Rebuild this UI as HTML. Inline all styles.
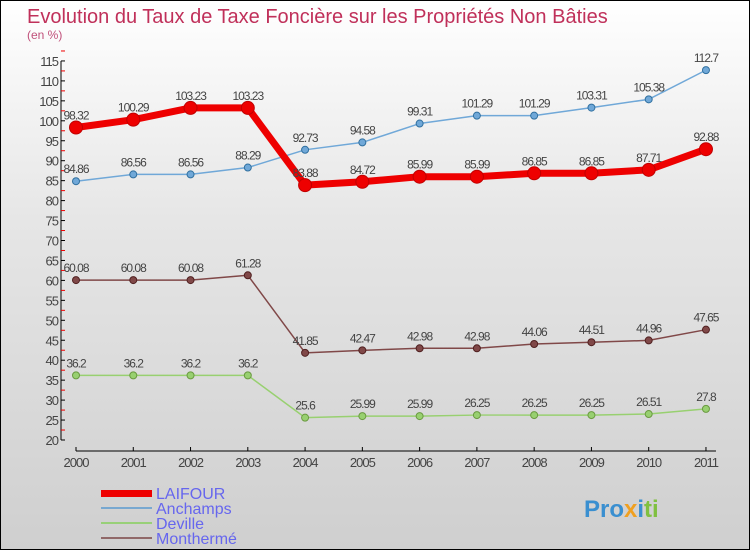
<!DOCTYPE html>
<html><head><meta charset="utf-8"><style>
body{margin:0}
#c{width:750px;height:550px;position:relative;box-sizing:border-box;border:1px solid #000;background:linear-gradient(#fff 0%,#e6e6e6 40%,#cfcfcf 100%);font-family:"Liberation Sans",sans-serif;overflow:hidden}
</style></head><body>
<div id="c">
<svg width="748" height="548">
<text x="26" y="22" font-size="20" fill="#c0305a">Evolution du Taux de Taxe Foncière sur les Propriétés Non Bâties</text>
<text x="26" y="38" font-size="12" fill="#c0507a">(en %)</text>
<g id="axes"></g><g id="series"></g>
<g>
<rect x="100" y="489" width="51" height="7" fill="#e00"/>
<text x="155" y="498" font-size="16" fill="#6666ee">LAIFOUR</text>
<rect x="100" y="506" width="51" height="2" fill="#78a8d0"/>
<text x="155" y="513" font-size="16" fill="#6666ee">Anchamps</text>
<rect x="100" y="521" width="51" height="2" fill="#98d078"/>
<text x="155" y="528" font-size="16" fill="#6666ee">Deville</text>
<rect x="100" y="536" width="51" height="2" fill="#906868"/>
<text x="155" y="543" font-size="16" fill="#6666ee">Monthermé</text>
</g>
<text x="583" y="516" font-size="24" font-weight="bold" fill="#3a8fd0">Pro<tspan fill="#f0a020">x</tspan>i<tspan fill="#80c040">ti</tspan></text>
</svg>
</div>
<script>
const years=["2000","2001","2002","2003","2004","2005","2006","2007","2008","2009","2010","2011"];
const yTicks=[20,25,30,35,40,45,50,55,60,65,70,75,80,85,90,95,100,105,110,115];
const laifour=[98.32,100.29,103.23,103.23,83.88,84.72,85.99,85.99,86.85,86.85,87.71,92.88];
const anchamps=[84.86,86.56,86.56,88.29,92.73,94.58,99.31,101.29,101.29,103.31,105.38,112.7];
const deville=[36.2,36.2,36.2,36.2,25.6,25.99,25.99,26.25,26.25,26.25,26.51,27.8];
const montherme=[60.08,60.08,60.08,61.28,41.85,42.47,42.98,42.98,44.06,44.51,44.96,47.65];
const NS="http://www.w3.org/2000/svg";
const X=i=>75+i*57.27, Y=v=>439-(v-20)*3.99;
function mk(t,a,p){const e=document.createElementNS(NS,t);for(const k in a)e.setAttribute(k,a[k]);p.appendChild(e);return e;}
const ax=document.getElementById('axes'),sg=document.getElementById('series');
let l=mk('line',{x1:60,y1:Y(115),x2:60,y2:Y(20),stroke:'#000'},ax);


yTicks.forEach(v=>{mk('line',{x1:60,x2:64,y1:Y(v),y2:Y(v),stroke:'#000'},ax);
mk('line',{x1:60,x2:64,y1:Y(v+2.5),y2:Y(v+2.5),stroke:'#e00'},ax);
const t=mk('text',{x:57,y:Y(v)+5,'font-size':13,'text-anchor':'end',fill:'#444','letter-spacing':'-1'},ax);t.textContent=v;

});
l=mk('line',{x1:X(0),y1:450,x2:X(11)+10,y2:450,stroke:'#000'},ax);


years.forEach((y,i)=>{mk('line',{x1:X(i),x2:X(i),y1:446,y2:450,stroke:'#000'},ax);
const t=mk('text',{x:X(i),y:466,'font-size':13,'text-anchor':'middle',fill:'#444','letter-spacing':'-1'},ax);t.textContent=y;

});
function series(d,col,w,r,name,dark){
const p=mk('polyline',{points:d.map((v,i)=>X(i)+','+Y(v)).join(' '),fill:'none',stroke:col,'stroke-width':w,'stroke-linejoin':'round'},sg);


d.forEach((v,i)=>{const c=mk('circle',{cx:X(i),cy:Y(v),r:r,fill:col,stroke:dark,'stroke-width':1},sg);


const t=mk('text',{x:X(i),y:Y(v)-8,'font-size':12,'text-anchor':'middle',fill:'#444','letter-spacing':'-1'},sg);t.textContent=v;

});}
series(deville,'#98d070',1.5,3.5,'deville','#6a9a40');
series(montherme,'#804848',1.5,3.5,'montherme','#502020');
series(anchamps,'#70a8d8',1.5,3.5,'anchamps','#3070a0');
series(laifour,'#ee0000',7,6.5,'laifour','#c00000');
</script>
</body></html>
